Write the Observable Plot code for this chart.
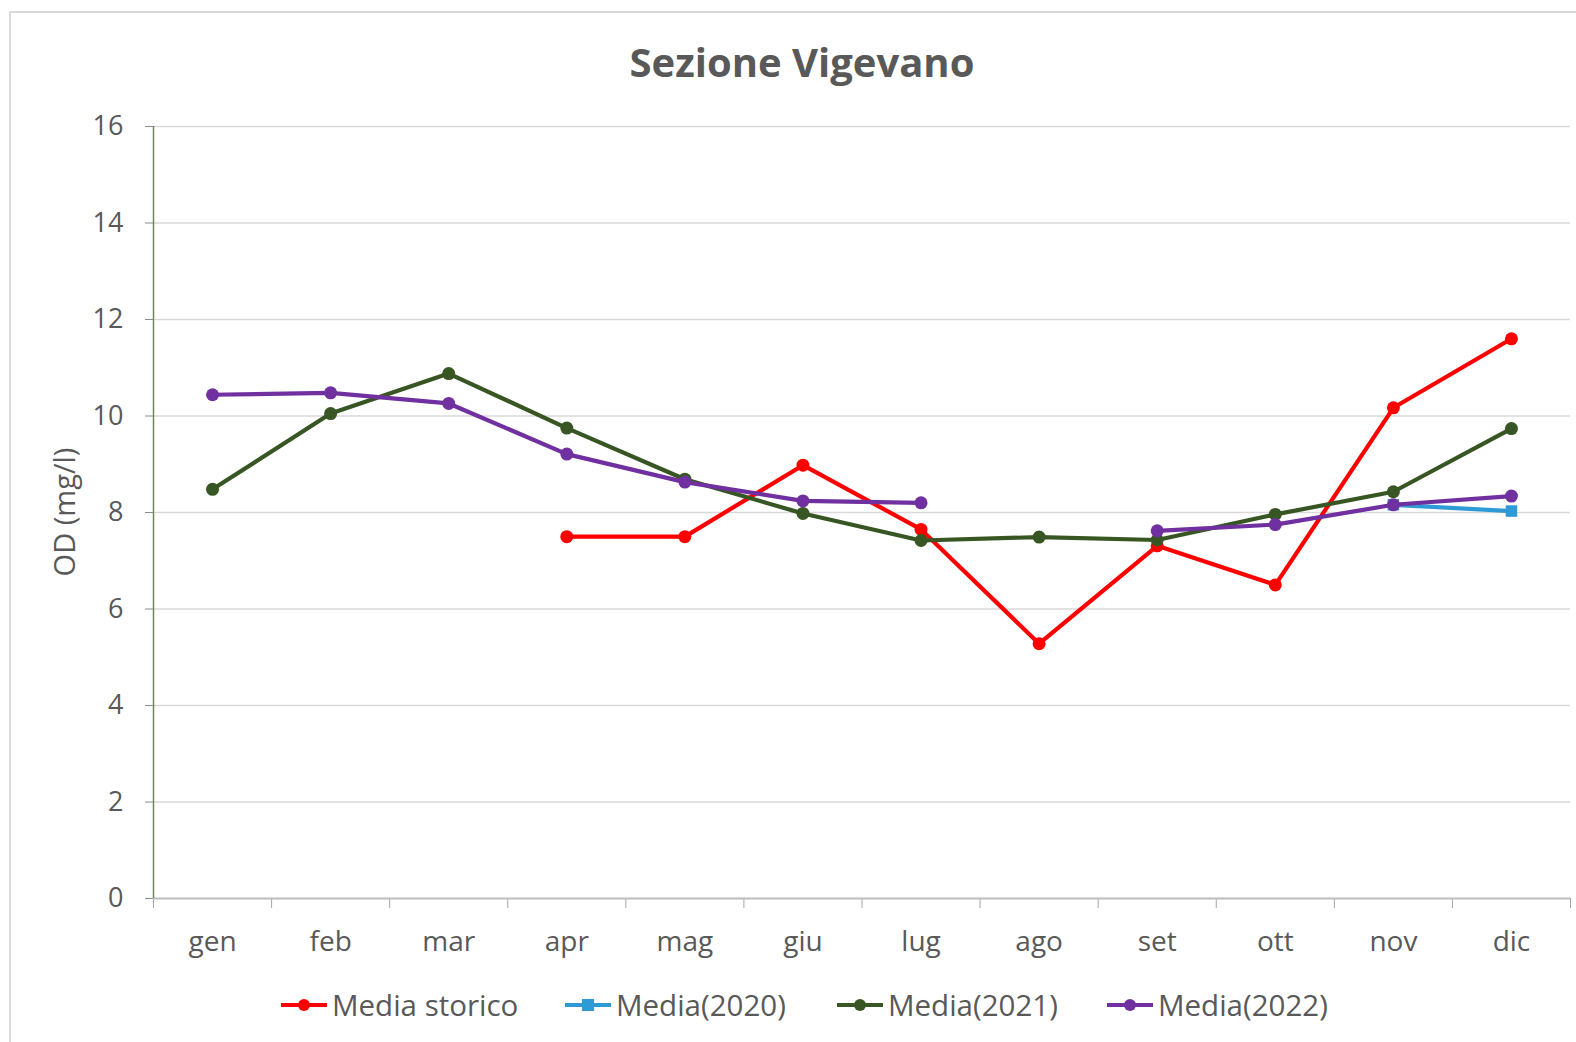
<!DOCTYPE html>
<html><head><meta charset="utf-8">
<script src="https://cdn.jsdelivr.net/npm/d3@7"></script>
<script src="https://cdn.jsdelivr.net/npm/@observablehq/plot@0.6"></script>
<style>
body{margin:0;background:#fff;font-family:"Open Sans",sans-serif;width:1576px;height:1042px;overflow:hidden;position:relative;}
#frame{position:absolute;left:9px;top:11px;width:1600px;height:1100px;border-left:2px solid #d9d9d9;border-top:2px solid #d9d9d9;}
#title{position:absolute;left:0;width:1604px;top:34px;text-align:center;font-weight:bold;font-size:40px;color:#595959;}
#chart{position:absolute;left:0;top:0;}
.leg{position:absolute;top:984px;display:flex;align-items:center;font-size:29.5px;color:#595959;}
.leg svg{margin-right:5px;}
</style></head>
<body>
<div id="frame"></div>
<div id="title">Sezione Vigevano</div>
<div id="chart"></div>
<div id="legend"></div>
<script>
const months = ["gen","feb","mar","apr","mag","giu","lug","ago","set","ott","nov","dic"];
const storico = [null,null,null,7.5,7.5,8.98,7.65,5.28,7.31,6.5,10.17,11.6];
const m2020 = [null,null,null,null,null,null,null,null,null,null,8.16,8.03];
const m2021 = [8.48,10.05,10.88,9.75,8.69,7.98,7.42,7.49,7.43,7.96,8.43,9.74];
const m2022 = [10.44,10.48,10.26,9.21,8.63,8.24,8.20,null,7.62,7.75,8.16,8.34];
const yTicks = [0,2,4,6,8,10,12,14,16];
const seriesNames = ["Media storico","Media(2020)","Media(2021)","Media(2022)"];
const seriesValues = [storico, m2020, m2021, m2022];
const colors = ["#ff0000","#2f9bd6","#375623","#7030a0"];
const symbols = ["circle","square","circle","circle"];

const idx = months.map((m,i)=>i);
const xDomain = [-0.5, months.length - 0.5];
const boundaries = d3.range(months.length + 1).map(i => i - 0.5);

const marks = [
  Plot.gridY(yTicks, {stroke:"#d9d9d9", strokeOpacity:1, strokeWidth:1.5}),
  Plot.axisY(yTicks, {tickSize:8, tickPadding:22, fontSize:27, label:null, stroke:"#8c8c8c"}),
  Plot.axisX(boundaries, {tickSize:10, tickFormat:()=>"" , label:null, stroke:"#a6a6a6"}),
  Plot.axisX(idx, {tickSize:0, tickPadding:33, fontSize:28, tickFormat:i=>months[i], label:null}),
  Plot.ruleY([0], {stroke:"#bfbfbf", strokeWidth:2}),
  Plot.ruleX([xDomain[0]], {stroke:"#6a8a50", strokeWidth:1.5}),
];
seriesValues.forEach((vals, s) => {
  const data = vals.map((v,i)=>({x:i, y:v}));
  marks.push(Plot.line(data, {x:"x", y:"y", stroke:colors[s], strokeWidth:4.2}));
  marks.push(Plot.dot(data.filter(d=>d.y!=null), {x:"x", y:"y", fill:colors[s], r:6.5, symbol:symbols[s]}));
});

const plot = Plot.plot({
  width:1576, height:960,
  marginTop:126, marginBottom:62, marginLeft:153, marginRight:6,
  x:{type:"linear", domain:xDomain},
  y:{domain:[0,16]},
  style:{color:"#595959", fontFamily:"Open Sans", background:"transparent"},
  marks
});
document.getElementById("chart").appendChild(plot);

// y label
const yl = document.createElement("div");
yl.textContent = "OD (mg/l)";
yl.style.cssText = "position:absolute;left:63px;top:512px;transform:translate(-50%,-50%) rotate(-90deg);font-size:29px;color:#595959;white-space:nowrap;";
document.body.appendChild(yl);

// legend
const legLeft = [281, 565, 837, 1107];
const legend = document.getElementById("legend");
seriesNames.forEach((name, s) => {
  const d = document.createElement("div");
  d.className = "leg";
  d.style.left = legLeft[s] + "px";
  const mk = symbols[s] === "square"
    ? `<rect x="17" y="11" width="12" height="12" fill="${colors[s]}"/>`
    : `<circle cx="23" cy="17" r="6" fill="${colors[s]}"/>`;
  d.innerHTML = `<svg width="46" height="34"><line x1="0" x2="46" y1="17" y2="17" stroke="${colors[s]}" stroke-width="4"/>${mk}</svg><span>${name}</span>`;
  legend.appendChild(d);
});
</script>
</body></html>
